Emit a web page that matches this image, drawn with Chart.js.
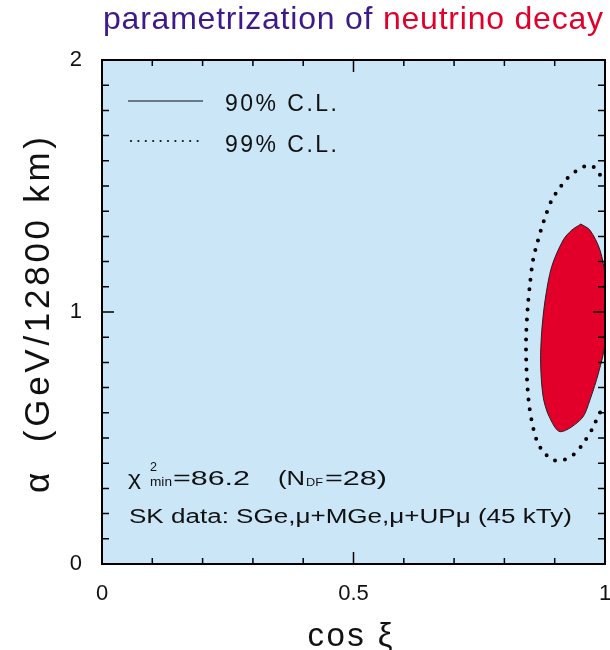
<!DOCTYPE html>
<html>
<head>
<meta charset="utf-8">
<script src="https://cdn.jsdelivr.net/npm/chart.js@4.4.1/dist/chart.umd.min.js"></script>
<style>
  html, body { margin: 0; padding: 0; background: #fff; }
</style>
</head>
<body>
<canvas id="graficaDecay" width="610" height="650"></canvas>
<script>
// contorno 90% C.L. (region roja)
const cl90X = [0.952, 0.934, 0.917, 0.894, 0.881, 0.874, 0.872, 0.877, 0.889, 0.911, 0.954, 0.970, 0.987, 1.000, 1.000, 0.990, 0.970, 0.952]
const cl90Y = [1.349, 1.325, 1.286, 1.180, 1.048, 0.917, 0.798, 0.664, 0.585, 0.525, 0.578, 0.651, 0.758, 0.877, 1.140, 1.246, 1.325, 1.349]

// contorno 99% C.L. (punteado)
const cl99X = [0.990, 0.978, 0.965, 0.945, 0.924, 0.907, 0.894, 0.879, 0.867, 0.857, 0.851, 0.846, 0.843, 0.844, 0.848, 0.854, 0.864, 0.877, 0.897, 0.917, 0.937, 0.957, 0.977, 0.989, 1.000]
const cl99Y = [1.545, 1.575, 1.581, 1.563, 1.528, 1.484, 1.444, 1.365, 1.286, 1.206, 1.114, 1.008, 0.889, 0.770, 0.651, 0.571, 0.492, 0.446, 0.413, 0.413, 0.433, 0.479, 0.545, 0.598, 0.615]

// mejor ajuste
const bestX = [0.952]
const bestY = [0.898]

const xTickLabels = ['0', '0.5', '1']
const yTickLabels = ['0', '1', '2']

const toPoints = (xs, ys) => xs.map((x, i) => ({ x, y: ys[i] }))

const ROJO = '#e2002b'
const MORADO = '#3c1a8a'
const FONDO = '#cbe6f7'
const TEXTO = '#111'
const FUENTE = '"Liberation Sans", Arial, sans-serif'

// dibuja segmentos de texto caracter por caracter, estirados a un ancho dado
const textoEspaciado = (ctx, segmentos, x, y, ancho, align) => {
    const chars = []
    segmentos.forEach(s => [...s.text].forEach(c => chars.push({ c, color: s.color })))
    const natural = chars.reduce((acc, ch) => acc + ctx.measureText(ch.c).width, 0)
    const extra = chars.length > 1 ? (ancho - natural) / (chars.length - 1) : 0
    let cx = align === 'center' ? x - ancho / 2 : align === 'right' ? x - ancho : x
    ctx.textAlign = 'left'
    chars.forEach(ch => {
        ctx.fillStyle = ch.color
        ctx.fillText(ch.c, cx, y)
        cx += ctx.measureText(ch.c).width + extra
    })
}

// texto ensanchado horizontalmente (letra ancha)
const textoAncho = (ctx, t, x, y, ancho) => {
    const f = ancho / ctx.measureText(t).width
    ctx.save()
    ctx.translate(x, y)
    ctx.scale(f, 1)
    ctx.textAlign = 'left'
    ctx.fillStyle = TEXTO
    ctx.fillText(t, 0, 0)
    ctx.restore()
}

const plotPlugin = {
    id: 'plotPlugin',
    beforeDraw(chart) {
        const { ctx, chartArea: a } = chart
        ctx.save()
        ctx.fillStyle = FONDO
        ctx.fillRect(a.left, a.top, a.right - a.left, a.bottom - a.top)
        ctx.restore()
    },
    afterDraw(chart) {
        const { ctx, chartArea: a, scales } = chart
        const sx = scales.x, sy = scales.y
        ctx.save()

        // marco
        ctx.strokeStyle = '#000'
        ctx.lineWidth = 2
        ctx.strokeRect(a.left, a.top, a.right - a.left, a.bottom - a.top)

        // ticks hacia adentro
        ctx.lineWidth = 1.5
        for (let i = 1; i < 10; i++) {
            const len = i === 5 ? 12 : 6
            const px = sx.getPixelForValue(i / 10)
            ctx.beginPath()
            ctx.moveTo(px, a.bottom); ctx.lineTo(px, a.bottom - len)
            ctx.moveTo(px, a.top); ctx.lineTo(px, a.top + len)
            ctx.stroke()
        }
        for (let i = 1; i < 20; i++) {
            const len = i === 10 ? 12 : 7
            const py = sy.getPixelForValue(i / 10)
            ctx.beginPath()
            ctx.moveTo(a.left, py); ctx.lineTo(a.left + len, py)
            ctx.moveTo(a.right, py); ctx.lineTo(a.right - len, py)
            ctx.stroke()
        }

        ctx.textBaseline = 'alphabetic'

        // titulo
        ctx.font = '32px ' + FUENTE
        textoEspaciado(ctx, [
            { text: 'parametrization of ', color: MORADO },
            { text: 'neutrino decay', color: ROJO }
        ], 103, 29, 500)

        // leyenda
        ctx.strokeStyle = '#4a5560'
        ctx.lineWidth = 1.5
        ctx.beginPath(); ctx.moveTo(128, 101); ctx.lineTo(203, 101); ctx.stroke()
        ctx.fillStyle = TEXTO
        for (let x = 131; x <= 198; x += 7.4) {
            ctx.beginPath(); ctx.arc(x, 141, 1.1, 0, Math.PI * 2); ctx.fill()
        }
        ctx.font = '23px ' + FUENTE
        textoEspaciado(ctx, [{ text: '90% C.L.', color: TEXTO }], 225, 111, 112)
        textoEspaciado(ctx, [{ text: '99% C.L.', color: TEXTO }], 225, 152, 112)

        // chi2 y datos
        const pieza = (t, size, x, y, ancho) => {
            ctx.font = size + 'px ' + FUENTE
            textoAncho(ctx, t, x, y, ancho)
        }
        pieza('\u03c7', 21, 128, 485, 13)
        pieza('2', 12, 150, 471, 7)
        pieza('min', 13, 150, 486, 22)
        pieza('=86.2', 21, 173, 485, 77)
        pieza('(N', 21, 278, 485, 27)
        pieza('DF', 11, 306, 486, 17)
        pieza('=28)', 21, 325, 485, 62)
        ctx.font = '20px ' + FUENTE
        textoAncho(ctx, 'SK data: SGe,\u03bc+MGe,\u03bc+UP\u03bc (45 kTy)', 129, 523, 443)

        // titulos de ejes
        ctx.font = '33px ' + FUENTE
        textoEspaciado(ctx, [{ text: 'cos \u03be', color: TEXTO }], 350, 646, 85, 'center')
        ctx.translate(49, 315)
        ctx.rotate(-Math.PI / 2)
        ctx.font = '35px ' + FUENTE
        textoEspaciado(ctx, [{ text: '\u03b1  (GeV/12800 km)', color: TEXTO }], 0, 0, 356, 'center')

        ctx.restore()
    }
}

const near = (v, t) => Math.abs(v - t) < 1e-6

const grafica = new Chart(document.getElementById('graficaDecay').getContext('2d'), {
    type: 'scatter',
    data: {
        datasets: [
            {
                label: '90% C.L.',
                data: toPoints(cl90X, cl90Y),
                showLine: true,
                fill: 'shape',
                backgroundColor: ROJO,
                borderColor: '#222',
                borderWidth: 1,
                tension: 0.3,
                pointRadius: 0
            },
            {
                label: '99% C.L.',
                data: toPoints(cl99X, cl99Y),
                showLine: true,
                fill: false,
                borderColor: '#000',
                borderWidth: 4,
                borderDash: [0, 10],
                borderCapStyle: 'round',
                tension: 0.3,
                pointRadius: 0
            },
            {
                label: 'mejor ajuste',
                data: toPoints(bestX, bestY),
                backgroundColor: '#000',
                borderColor: '#000',
                pointRadius: 3.5
            }
        ]
    },
    options: {
        responsive: false,
        animation: false,
        layout: { padding: { top: 60, right: 5, left: 0, bottom: 0 } },
        plugins: { legend: { display: false }, tooltip: { enabled: false } },
        scales: {
            x: {
                type: 'linear', min: 0, max: 1,
                grid: { display: false, drawTicks: false },
                border: { display: false },
                ticks: {
                    stepSize: 0.5, padding: 17, color: TEXTO, maxRotation: 0,
                    font: { size: 22, family: FUENTE },
                    callback: v => near(v, 0) ? xTickLabels[0] : near(v, 0.5) ? xTickLabels[1] : near(v, 1) ? xTickLabels[2] : ''
                },
                afterFit: s => { s.height = 86; s.paddingLeft = 0; s.paddingRight = 0 }
            },
            y: {
                type: 'linear', min: 0, max: 2,
                grid: { display: false, drawTicks: false },
                border: { display: false },
                ticks: {
                    stepSize: 1, padding: 20, color: TEXTO,
                    font: { size: 22, family: FUENTE },
                    callback: v => near(v, 0) ? yTickLabels[0] : near(v, 1) ? yTickLabels[1] : near(v, 2) ? yTickLabels[2] : ''
                },
                afterFit: s => { s.width = 102; s.paddingTop = 0; s.paddingBottom = 0 }
            }
        }
    },
    plugins: [plotPlugin]
})
</script>
</body>
</html>
